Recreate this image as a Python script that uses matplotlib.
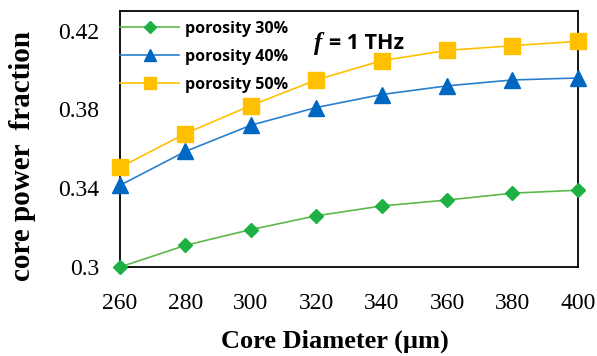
import matplotlib.pyplot as plt

# core diameter sweep (um) and core power fraction per porosity
diameter = [260, 280, 300, 320, 340, 360, 380, 400]
frac_30 = [0.300, 0.311, 0.319, 0.326, 0.331, 0.334, 0.3375, 0.339]
frac_40 = [0.3415, 0.3587, 0.372, 0.381, 0.3876, 0.392, 0.395, 0.396]
frac_50 = [0.3506, 0.3678, 0.382, 0.395, 0.4048, 0.410, 0.4124, 0.4146]

labels = ["porosity 30%", "porosity 40%", "porosity 50%"]
yticks = [0.3, 0.34, 0.38, 0.42]
ytick_labels = ["0.3", "0.34", "0.38", "0.42"]

fig = plt.figure(figsize=(5.97, 3.56), dpi=100)
ax = fig.add_axes([0.201, 0.25, 0.767, 0.719])

ax.plot(diameter, frac_30, color="#5cb84a", marker="D", markersize=7.5,
        markerfacecolor="#1db042", markeredgecolor="#1db042", linewidth=1.2,
        label=labels[0], clip_on=False, zorder=3)
ax.plot(diameter, frac_40, color="#2a7fcf", marker="^", markersize=11,
        markerfacecolor="#0068c0", markeredgecolor="#0068c0", linewidth=1.2,
        label=labels[1], clip_on=False, zorder=3)
ax.plot(diameter, frac_50, color="#ffc000", marker="s", markersize=11,
        markerfacecolor="#ffc000", markeredgecolor="#ffc000", linewidth=1.2,
        label=labels[2], clip_on=False, zorder=3)

ax.set_xlim(260, 400)
ax.set_ylim(0.3, 0.43)
ax.set_xticks(diameter)
ax.set_yticks(yticks)
ax.set_yticklabels(ytick_labels)
ax.tick_params(length=0, labelsize=17)
ax.tick_params(axis="x", pad=19)
ax.tick_params(axis="y", pad=15)
for lab in ax.get_xticklabels() + ax.get_yticklabels():
    lab.set_family("Liberation Serif")

for sp in ax.spines.values():
    sp.set_linewidth(1.3)
    sp.set_color("black")

ax.set_xlabel("Core Diameter (\u00b5m)", family="Liberation Serif",
              fontweight="bold", fontsize=19)
ax.set_ylabel("core power  fraction", family="Liberation Serif",
              fontweight="bold", fontsize=21)
ax.xaxis.set_label_coords(0.469, -0.245)
ax.yaxis.set_label_coords(-0.183, 0.435)

ax.text(0.424, 0.875, "f", transform=ax.transAxes, family="Liberation Serif",
        style="italic", fontweight="bold", fontsize=18, va="center", ha="left")
ax.text(0.457, 0.875, "= 1 THz", transform=ax.transAxes, family="Open Sans",
        fontweight="bold", fontsize=15.5, va="center", ha="left")

ax.legend(loc="upper left", frameon=False, handlelength=3.7, markerscale=0.8,
          prop={"family": "Open Sans", "weight": "bold", "size": 11.5},
          bbox_to_anchor=(0.0, 0.962), borderaxespad=0, borderpad=0,
          labelspacing=0.75, handletextpad=0.4)

fig.savefig("out.png", dpi=100)
